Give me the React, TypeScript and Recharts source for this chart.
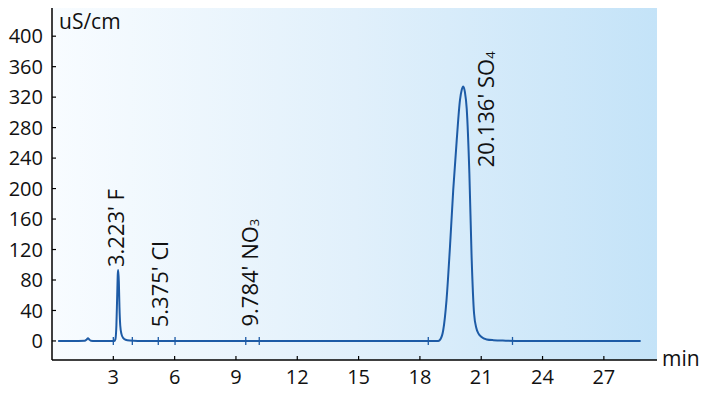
import { CartesianGrid, ComposedChart, Line, Scatter, XAxis, YAxis } from 'recharts'

// chromatogram trace (min, uS/cm)
const times = [
  0.3, 1.0, 1.6, 1.7, 1.76, 1.82, 1.9, 2.1, 3.0, 3.05, 3.1, 3.15, 3.19, 3.22, 3.24, 3.27, 3.3, 3.34,
  3.4, 3.48, 3.6, 3.8, 4.2, 10, 15, 18.9, 19.0, 19.14, 19.3, 19.47, 19.63, 19.8, 19.96, 20.05, 20.12,
  20.2, 20.29, 20.42, 20.53, 20.65, 20.76, 20.86, 21.0, 21.27, 21.6, 22.2, 23.0, 28.8,
]
const signal = [
  0, 0, 0.3, 2, 3.5, 2, 0.3, 0, 0, 0, 2, 20, 60, 88, 93, 78, 45, 20,
  9, 4, 1.5, 0.5, 0, 0, 0, 0, 2, 14, 53, 123, 198, 263, 316, 330, 334,
  327, 305, 220, 110, 36, 17, 10, 5.5, 2, 1, 0.4, 0, 0,
]

// integration start/end marks on the baseline
const markTimes = [3.0, 3.93, 5.2, 6.02, 9.48, 10.14, 18.41, 22.53]

// peak annotations
const labelTimes = [3.223, 5.375, 9.784, 20.136]
const labelNames = ['F', 'Cl', 'NO', 'SO']
const labelSubs = ['', '', '3', '4']
const labelBase = [97, 18, 19, 228]
const labelShift = [-3, -3, -3, 21]

const xTicks = [3, 6, 9, 12, 15, 18, 21, 24, 27]
const yTicks = [0, 40, 80, 120, 160, 200, 240, 280, 320, 360, 400]

const trace = times.map((t, i) => ({ t, v: signal[i] }))
const marks = markTimes.map((t) => ({ t, v: 0 }))
const labels = labelTimes.map((t, i) => ({
  t,
  v: labelBase[i],
  text: `${t}' ${labelNames[i]}`,
  sub: labelSubs[i],
  shift: labelShift[i],
}))

const LINE = '#1d5ba6'
const FONT = "'Open Sans', sans-serif"

function MarkShape(props: any) {
  const { cx, cy } = props
  return <line x1={cx} x2={cx} y1={cy - 4} y2={cy + 4} stroke={LINE} strokeWidth={1.3} />
}

function PeakLabel(props: any) {
  const { cx, cy, payload } = props
  const x = cx + payload.shift
  return (
    <text
      x={x}
      y={cy}
      transform={`rotate(-90 ${x} ${cy})`}
      dominantBaseline="central"
      fontSize={22}
      fontFamily={FONT}
      fill="#111"
    >
      {payload.text}
      {payload.sub && (
        <tspan fontSize={13} dy={5}>
          {payload.sub}
        </tspan>
      )}
    </text>
  )
}

export default function App() {
  return (
    <div style={{ width: 707, height: 395 }}>
      <style>{'body{margin:0}'}</style>
      <ComposedChart
        width={707}
        height={395}
        data={trace}
        margin={{ top: 8, right: 50, bottom: 0, left: 0 }}
      >
        <defs>
          <linearGradient id="plotBg" x1="0" y1="0" x2="1" y2="0">
            <stop offset="0%" stopColor="#f8fcff" />
            <stop offset="50%" stopColor="#e1f0fb" />
            <stop offset="100%" stopColor="#c4e3f8" />
          </linearGradient>
        </defs>
        <CartesianGrid horizontal={false} vertical={false} fill="url(#plotBg)" stroke="none" />
        <XAxis
          dataKey="t"
          type="number"
          domain={[0, 29.6]}
          ticks={xTicks}
          allowDataOverflow
          height={35}
          tickSize={-4}
          tickMargin={14}
          axisLine={{ stroke: '#000', strokeWidth: 1.5 }}
          tickLine={{ stroke: '#000', strokeWidth: 1.2 }}
          tick={{ fill: '#111', fontSize: 20, fontFamily: FONT }}
          label={({ viewBox }: any) => (
            <text
              x={viewBox.x + viewBox.width + 5}
              y={viewBox.y + 6}
              fontSize={21}
              fontFamily={FONT}
              fill="#111"
            >
              min
            </text>
          )}
        />
        <YAxis
          type="number"
          domain={[-25, 437]}
          ticks={yTicks}
          allowDataOverflow
          width={52}
          tickSize={-4}
          tickMargin={13}
          axisLine={{ stroke: '#000', strokeWidth: 1.5 }}
          tickLine={{ stroke: '#000', strokeWidth: 1.2 }}
          tick={{ fill: '#111', fontSize: 20, fontFamily: FONT }}
          label={({ viewBox }: any) => (
            <text x={viewBox.x + 59} y={viewBox.y + 21} fontSize={21} fontFamily={FONT} fill="#111">
              uS/cm
            </text>
          )}
        />
        <Line
          dataKey="v"
          type="monotone"
          stroke={LINE}
          strokeWidth={2}
          dot={false}
          activeDot={false}
          isAnimationActive={false}
        />
        <Scatter data={marks} dataKey="v" shape={MarkShape} isAnimationActive={false} />
        <Scatter data={labels} dataKey="v" shape={PeakLabel} isAnimationActive={false} />
      </ComposedChart>
    </div>
  )
}
